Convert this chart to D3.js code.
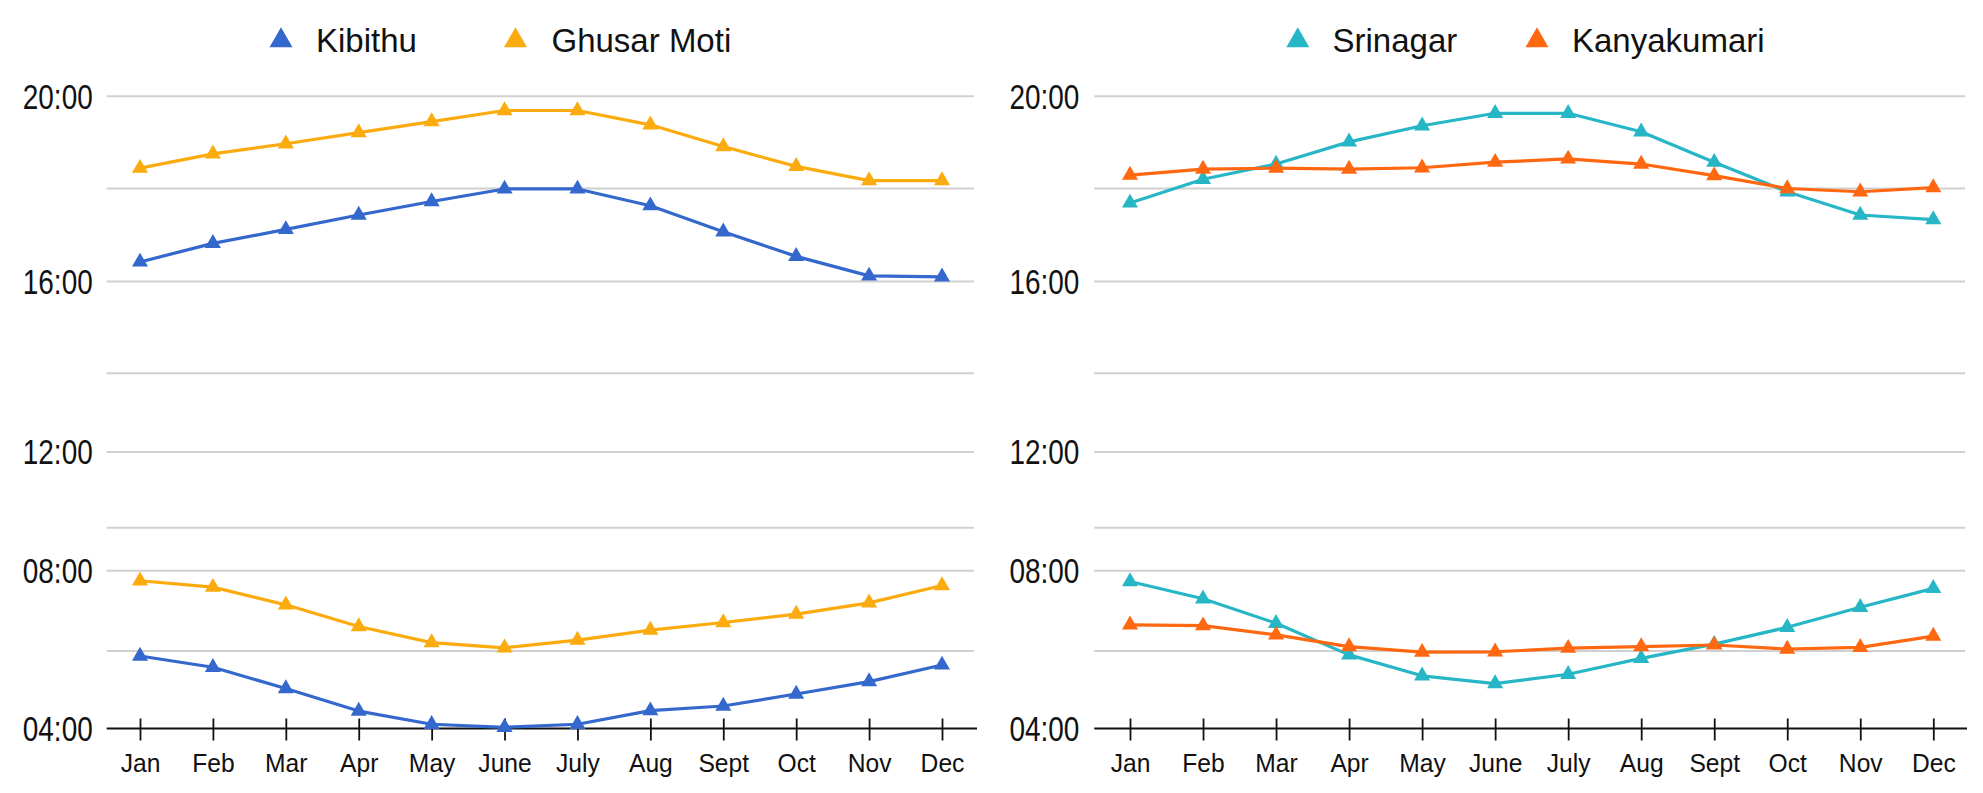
<!DOCTYPE html>
<html>
<head>
<meta charset="utf-8">
<script src="https://cdn.jsdelivr.net/npm/d3@7"></script>
<style>
  html, body { margin: 0; padding: 0; background: #fff; }
  svg { display: block; font-family: "Liberation Sans", Arial, Helvetica, sans-serif; }
</style>
</head>
<body>
<svg width="1983" height="793"></svg>
<script>
// month categories and hour ticks
const months = ["Jan", "Feb", "Mar", "Apr", "May", "June", "July", "Aug", "Sept", "Oct", "Nov", "Dec"];
const labelHours = [4, 8, 12, 16, 20];
const gridHours = [4, 6, 8, 10, 12, 14, 16, 18, 20];

// sunrise / sunset times in decimal hours (IST)
const kibithuRise = [5.87, 5.58, 5.03, 4.45, 4.11, 4.03, 4.11, 4.46, 4.58, 4.89, 5.21, 5.64];
const kibithuSet  = [16.42, 16.82, 17.12, 17.43, 17.72, 17.99, 17.99, 17.63, 17.07, 16.54, 16.12, 16.10];
const ghusarRise  = [7.75, 7.59, 7.15, 6.61, 6.21, 6.08, 6.27, 6.52, 6.71, 6.92, 7.20, 7.63];
const ghusarSet   = [18.44, 18.75, 18.97, 19.21, 19.45, 19.69, 19.69, 19.38, 18.91, 18.48, 18.17, 18.17];
const srinagarRise = [7.73, 7.30, 6.69, 5.90, 5.36, 5.16, 5.40, 5.81, 6.17, 6.59, 7.09, 7.56];
const srinagarSet  = [17.69, 18.20, 18.53, 19.01, 19.36, 19.63, 19.63, 19.23, 18.57, 17.93, 17.43, 17.33];
const kanyaRise = [6.65, 6.63, 6.40, 6.11, 5.97, 5.98, 6.07, 6.11, 6.15, 6.05, 6.09, 6.37];
const kanyaSet  = [18.29, 18.42, 18.44, 18.42, 18.45, 18.57, 18.64, 18.53, 18.28, 18.00, 17.93, 18.02];

document.addEventListener("DOMContentLoaded", () => {
    const svg = d3.select("svg");

    // the source chart has uneven gridline spacing, so the y scale is piecewise
    const gridY = [728.5, 651, 570.7, 527.7, 452, 373.3, 281.5, 188.5, 96.2];

    const panels = [
        {
            left: 106.7, right: 974, axisEnd: 977, first: 140, last: 942, labelX: 92.7,
            series: [
                { name: "Kibithu", color: "#3468CD", rise: kibithuRise, set: kibithuSet, lx: 281, tx: 316 },
                { name: "Ghusar Moti", color: "#FBAB0D", rise: ghusarRise, set: ghusarSet, lx: 515.5, tx: 551.5 }
            ]
        },
        {
            left: 1094.3, right: 1965, axisEnd: 1967, first: 1130, last: 1933.3, labelX: 1079.3,
            series: [
                { name: "Srinagar", color: "#27B6C6", rise: srinagarRise, set: srinagarSet, lx: 1297.8, tx: 1332.5 },
                { name: "Kanyakumari", color: "#FF6710", rise: kanyaRise, set: kanyaSet, lx: 1537, tx: 1572 }
            ]
        }
    ];

    const fmt = h => d3.format("02d")(h) + ":00";

    panels.forEach(p => {
        const x = d3.scalePoint().domain(months).range([p.first, p.last]);
        const y = d3.scaleLinear().domain(gridHours).range(gridY);
        const g = svg.append("g");

        // gridlines (04:00 is drawn as the axis)
        g.selectAll(".grid")
            .data(gridHours.filter(h => h !== 4))
            .enter().append("line")
            .attr("x1", p.left).attr("x2", p.right)
            .attr("y1", d => y(d)).attr("y2", d => y(d))
            .attr("stroke", "#d0d0d0")
            .attr("stroke-width", 2);

        // y labels, narrow like the source
        g.selectAll(".ylab")
            .data(labelHours)
            .enter().append("text")
            .attr("transform", d => `translate(${p.labelX},${y(d) + 12.3}) scale(0.81,1)`)
            .attr("text-anchor", "end")
            .attr("font-size", 34.5)
            .attr("fill", "#111")
            .text(fmt);

        // x axis with crossing ticks
        const axis = g.append("g")
            .attr("transform", `translate(0,${y(4)})`)
            .call(d3.axisBottom(x).tickSize(0).tickPadding(0));
        axis.select(".domain").remove();
        axis.append("line")
            .attr("x1", p.left).attr("x2", p.axisEnd)
            .attr("stroke", "#111").attr("stroke-width", 2.2);
        axis.selectAll(".tick line")
            .attr("y1", -10).attr("y2", 12)
            .attr("stroke", "#111").attr("stroke-width", 1.8);
        axis.selectAll(".tick text")
            .attr("y", 43.3)
            .attr("dy", null)
            .attr("transform", "scale(0.93,1)")
            .attr("font-size", 26.5)
            .attr("font-family", "'Liberation Sans', Arial, sans-serif")
            .attr("fill", "#111");

        const line = d3.line().x((d, i) => x(months[i])).y(d => y(d));
        const tri = d3.symbol().type(d3.symbolTriangle).size(112);

        p.series.forEach(s => {
            [s.rise, s.set].forEach(vals => {
                g.append("path")
                    .datum(vals)
                    .attr("d", line)
                    .attr("fill", "none")
                    .attr("stroke", s.color)
                    .attr("stroke-width", 3.2)
                    .attr("stroke-linejoin", "round");
            });
            [s.rise, s.set].forEach(vals => {
                g.selectAll(null)
                    .data(vals)
                    .enter().append("path")
                    .attr("d", tri)
                    .attr("transform", (d, i) => `translate(${x(months[i])},${y(d)})`)
                    .attr("fill", s.color);
            });

            // legend entry
            g.append("path")
                .attr("d", d3.symbol().type(d3.symbolTriangle).size(229)())
                .attr("transform", `translate(${s.lx},40.5)`)
                .attr("fill", s.color);
            g.append("text")
                .attr("x", s.tx).attr("y", 51.7)
                .attr("font-size", 33)
                .attr("fill", "#111")
                .text(s.name);
        });
    });
});
</script>
</body>
</html>
